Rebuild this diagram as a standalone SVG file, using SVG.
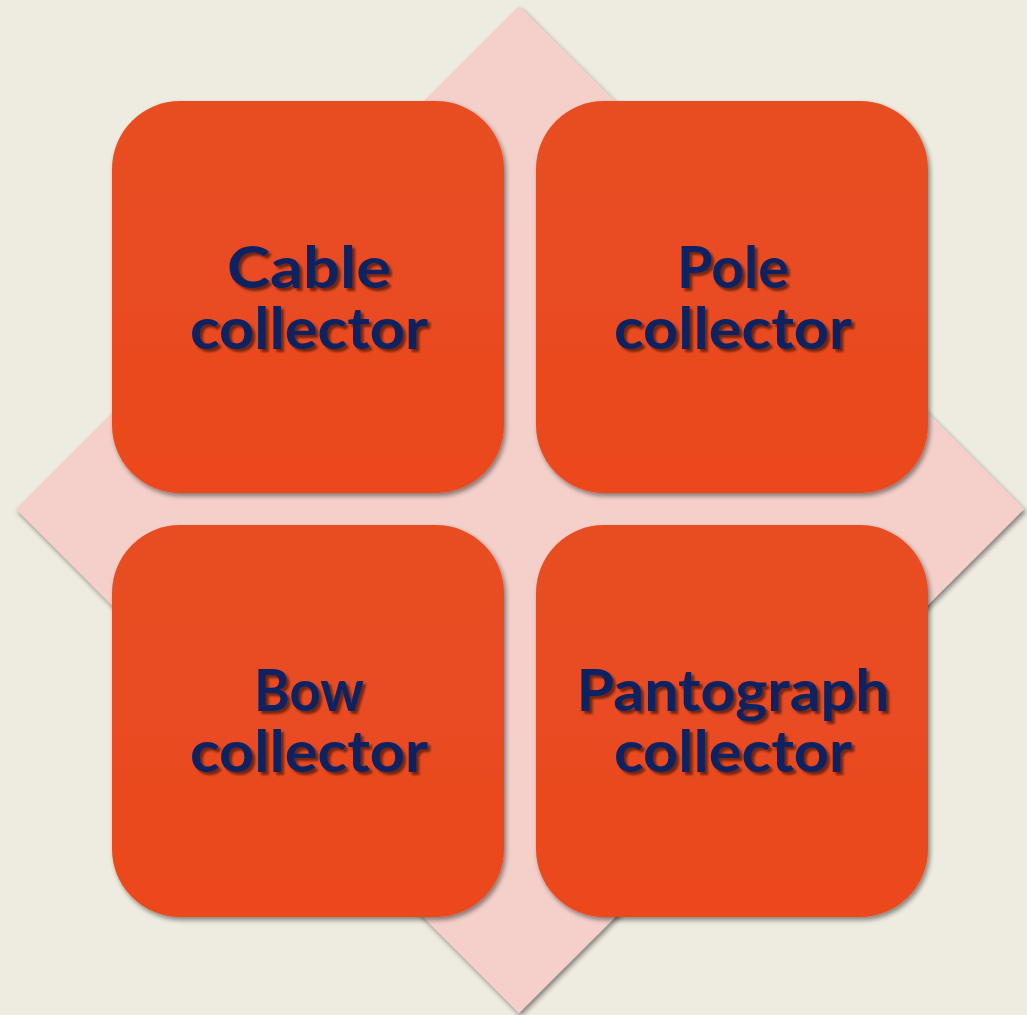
<svg xmlns="http://www.w3.org/2000/svg" width="1027" height="1015" viewBox="0 0 1027 1015">
<defs>
<linearGradient id="boxg" x1="0" y1="0" x2="0" y2="1">
<stop offset="0" stop-color="#E84E23"/>
<stop offset="1" stop-color="#EB481D"/>
</linearGradient>
<filter id="sh" x="-10%" y="-10%" width="125%" height="125%">
<feGaussianBlur in="SourceAlpha" stdDeviation="2.5"/>
<feOffset dx="2" dy="3" result="b"/>
<feComponentTransfer><feFuncA type="linear" slope="0.45"/></feComponentTransfer>
<feMerge><feMergeNode/><feMergeNode in="SourceGraphic"/></feMerge>
</filter>
<filter id="tsh" x="-10%" y="-20%" width="125%" height="150%">
<feGaussianBlur in="SourceAlpha" stdDeviation="1.2"/>
<feOffset dx="2.5" dy="2.5"/>
<feComponentTransfer><feFuncA type="linear" slope="0.5"/></feComponentTransfer>
<feMerge><feMergeNode/><feMergeNode in="SourceGraphic"/></feMerge>
</filter>
</defs>
<style>
.box{fill:url(#boxg);filter:url(#sh);}
.lbl{font-family:"Lato","Liberation Sans",sans-serif;font-weight:bold;font-size:57px;fill:#0F2360;text-anchor:middle;filter:url(#tsh);}
</style>
<rect width="1027" height="1015" fill="#EEEBE0"/>
<polygon points="519,6 1024,509 519,1013 16,509" fill="#F5D0CB" filter="url(#sh)"/>
<g id="connectors"></g>
<g id="node-cable">
<rect class="box" x="112" y="101" width="392" height="392" rx="68"/>
<text class="lbl"><tspan x="309" y="288" textLength="164" lengthAdjust="spacingAndGlyphs">Cable</tspan><tspan x="309" y="349" textLength="238" lengthAdjust="spacingAndGlyphs">collector</tspan></text>
</g>
<g id="node-pole">
<rect class="box" x="536" y="101" width="392" height="392" rx="68"/>
<text class="lbl"><tspan x="733" y="288" textLength="112" lengthAdjust="spacingAndGlyphs">Pole</tspan><tspan x="733" y="349" textLength="238" lengthAdjust="spacingAndGlyphs">collector</tspan></text>
</g>
<g id="node-bow">
<rect class="box" x="112" y="525" width="392" height="392" rx="68"/>
<text class="lbl"><tspan x="309" y="711" textLength="110" lengthAdjust="spacingAndGlyphs">Bow</tspan><tspan x="309" y="772" textLength="238" lengthAdjust="spacingAndGlyphs">collector</tspan></text>
</g>
<g id="node-pantograph">
<rect class="box" x="536" y="525" width="392" height="392" rx="68"/>
<text class="lbl"><tspan x="733" y="711" textLength="313" lengthAdjust="spacingAndGlyphs">Pantograph</tspan><tspan x="733" y="772" textLength="238" lengthAdjust="spacingAndGlyphs">collector</tspan></text>
</g>
</svg>
